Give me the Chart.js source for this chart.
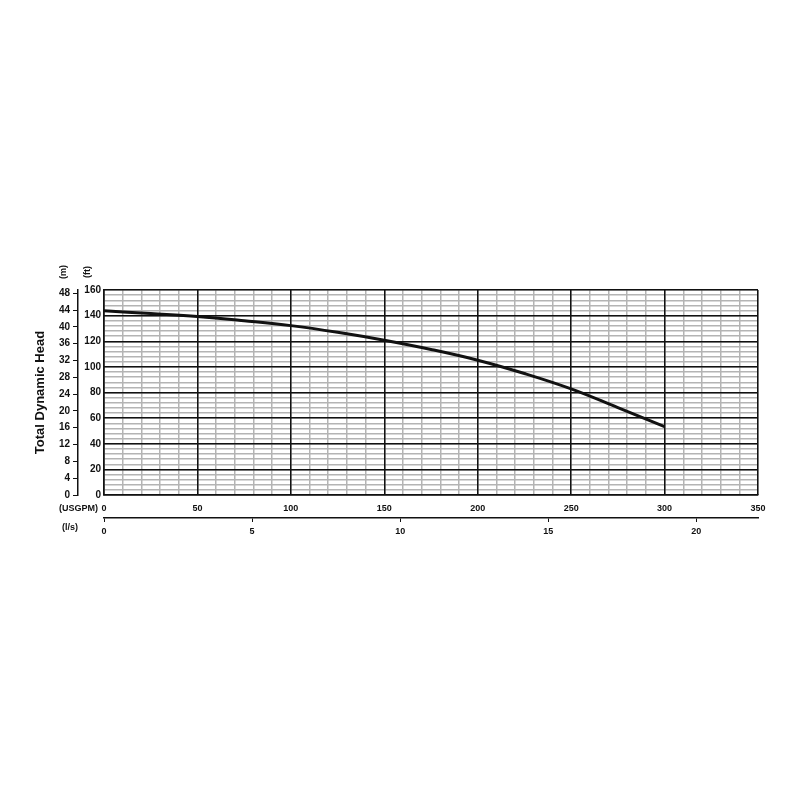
<!DOCTYPE html>
<html>
<head>
<meta charset="utf-8">
<script src="https://cdn.jsdelivr.net/npm/chart.js@4"></script>
<style>
    html, body { margin: 0; padding: 0; background: #fff; }
    #grafico { display: block; }
</style>
</head>
<body>
<canvas id="grafico" width="800" height="800"></canvas>
<script>
// pump curve
const caudalUsgpm = [0, 25, 50, 75, 100, 125, 150, 175, 200, 225, 250, 275, 300];
const alturaFt = [143.8, 141.6, 139.3, 136.0, 132.2, 127.0, 120.8, 113.6, 105.2, 94.8, 82.8, 68.2, 53.4];

const ticksFt = { min: 0, max: 160, paso: 4, mayor: 20 };
const ticksUsgpm = { min: 0, max: 350, paso: 10, mayor: 50 };
const pasoMetros = 4;
const pasoLs = 5;

const FT_POR_M = 3.28084;
const LS_POR_USGPM = 0.0630902;

const fuente = "'Liberation Sans', Arial, sans-serif";
const negro = '#111111';
const gris = '#b4b4b4';

const puntos = caudalUsgpm.map((q, i) => ({ x: q, y: alturaFt[i] }));

// texts (m), (ft), (USGPM), (l/s) placed against the scales
const etiquetasUnidades = {
    id: 'etiquetasUnidades',
    afterDraw(chart) {
        const ctx = chart.ctx;
        const sM = chart.scales.yM;
        const sFt = chart.scales.y;
        const sX = chart.scales.x;
        const sLs = chart.scales.xLs;
        ctx.save();
        ctx.fillStyle = negro;
        ctx.font = 'bold 9px ' + fuente;
        ctx.textBaseline = 'middle';

        ctx.textAlign = 'center';
        ctx.save();
        ctx.translate(sM.right - 14, chart.chartArea.top - 18);
        ctx.rotate(-Math.PI / 2);
        ctx.fillText('(m)', 0, 0);
        ctx.restore();

        ctx.save();
        ctx.translate(sFt.right - 16, chart.chartArea.top - 18);
        ctx.rotate(-Math.PI / 2);
        ctx.fillText('(ft)', 0, 0);
        ctx.restore();

        ctx.textAlign = 'right';
        ctx.fillText('(USGPM)', sX.left - 6, sX.top + 14);
        ctx.textAlign = 'center';
        ctx.fillText('(l/s)', sM.right - 8, sLs.top + 10);
        ctx.restore();
    }
};

const ctx = document.getElementById('grafico').getContext('2d');

new Chart(ctx, {
    type: 'line',
    data: {
        datasets: [{
            label: 'Curva',
            data: puntos,
            xAxisID: 'x',
            yAxisID: 'y',
            borderColor: negro,
            borderWidth: 3,
            pointRadius: 0,
            tension: 0.4,
            fill: false
        }]
    },
    options: {
        responsive: false,
        animation: false,
        devicePixelRatio: 1,
        layout: {
            padding: { left: 33, right: 42, top: 290, bottom: 258 }
        },
        plugins: {
            legend: { display: false },
            tooltip: { enabled: false }
        },
        scales: {
            x: {
                type: 'linear',
                position: 'bottom',
                weight: 0,
                min: ticksUsgpm.min,
                max: ticksUsgpm.max,
                afterFit: (s) => { s.height = 23; },
                border: { display: true, color: negro, width: 1.5 },
                grid: {
                    drawTicks: false,
                    lineWidth: 1.5,
                    color: gris
                },
                ticks: {
                    stepSize: ticksUsgpm.paso,
                    autoSkip: false,
                    maxRotation: 0,
                    padding: 8,
                    color: negro,
                    font: { family: fuente, size: 9, weight: 'bold' },
                    callback: (v) => v % ticksUsgpm.mayor === 0 ? v : ''
                }
            },
            // black major lines, drawn above the grey ones
            xMayor: {
                type: 'linear',
                position: 'top',
                min: ticksUsgpm.min,
                max: ticksUsgpm.max,
                afterFit: (s) => { s.height = 0; },
                border: { display: false },
                grid: { drawTicks: false, lineWidth: 1.5, color: negro, z: 0 },
                ticks: { display: false, stepSize: ticksUsgpm.mayor }
            },
            xLs: {
                type: 'linear',
                position: 'bottom',
                weight: 1,
                min: 0,
                max: ticksUsgpm.max * LS_POR_USGPM,
                afterFit: (s) => { s.height = 24; },
                border: { display: true, color: negro, width: 1.5 },
                grid: {
                    drawOnChartArea: false,
                    drawTicks: true,
                    tickLength: 4,
                    color: negro,
                    lineWidth: 1
                },
                ticks: {
                    stepSize: pasoLs,
                    includeBounds: false,
                    maxRotation: 0,
                    padding: 4,
                    color: negro,
                    font: { family: fuente, size: 9, weight: 'bold' }
                }
            },
            y: {
                type: 'linear',
                position: 'left',
                weight: 0,
                min: ticksFt.min,
                max: ticksFt.max,
                afterFit: (s) => { s.width = 26; },
                border: { display: true, color: negro, width: 1.5 },
                grid: {
                    drawTicks: false,
                    lineWidth: 1.5,
                    color: gris
                },
                ticks: {
                    stepSize: ticksFt.paso,
                    autoSkip: false,
                    padding: 3,
                    color: negro,
                    font: { family: fuente, size: 10, weight: 'bold' },
                    callback: (v) => v % ticksFt.mayor === 0 ? v : ''
                }
            },
            yMayor: {
                type: 'linear',
                position: 'right',
                min: ticksFt.min,
                max: ticksFt.max,
                afterFit: (s) => { s.width = 0; },
                border: { display: false },
                grid: { drawTicks: false, lineWidth: 1.5, color: negro, z: 0 },
                ticks: { display: false, stepSize: ticksFt.mayor }
            },
            yM: {
                type: 'linear',
                position: 'left',
                weight: 1,
                min: 0,
                max: ticksFt.max / FT_POR_M,
                afterFit: (s) => { s.width = 45; },
                border: { display: true, color: negro, width: 1.5 },
                grid: {
                    drawOnChartArea: false,
                    drawTicks: true,
                    tickLength: 5,
                    color: negro,
                    lineWidth: 1
                },
                ticks: {
                    stepSize: pasoMetros,
                    includeBounds: false,
                    autoSkip: false,
                    padding: 3,
                    color: negro,
                    font: { family: fuente, size: 10, weight: 'bold' }
                },
                title: {
                    display: true,
                    text: 'Total Dynamic Head',
                    color: negro,
                    padding: 0,
                    font: { family: fuente, size: 13, weight: 'bold' }
                }
            }
        }
    },
    plugins: [etiquetasUnidades]
});
</script>
</body>
</html>
